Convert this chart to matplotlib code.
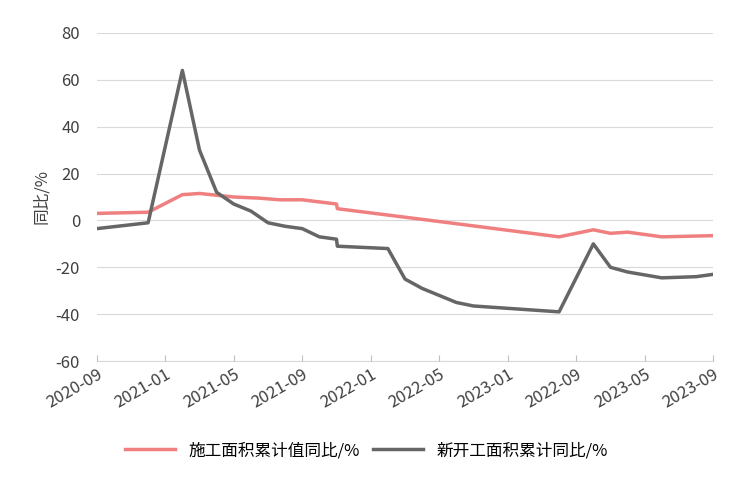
import matplotlib
matplotlib.use("Agg")
import matplotlib.pyplot as plt
from matplotlib import font_manager as fm

names = {f.name for f in fm.fontManager.ttflist}
cjk = [n for n in ['Noto Sans CJK SC','Noto Sans CJK JP','Noto Sans CJK TC','Noto Sans CJK KR'] if n in names]
plt.rcParams['font.family'] = 'sans-serif'
plt.rcParams['font.sans-serif'] = cjk + ['DejaVu Sans']
plt.rcParams['axes.unicode_minus'] = False

tick_labels = ["2020-09","2021-01","2021-05","2021-09","2022-01","2022-05","2023-01","2022-09","2023-05","2023-09"]
gray_x = [0,3,5,6,7,8,9,10,11,12,13,14,14.05,17,18,19,20,21,22,23,27,29,30,31,33,35,36]
gray_y = [-3.5,-1,64,30,12,7,4,-1,-2.5,-3.5,-7,-8,-11,-12,-25,-29,-32,-35,-36.5,-37,-39,-10,-20,-22,-24.5,-24,-23]
red_x = [0,3,5,6,8,9.5,10.7,12,14,14.05,19.5,27,29,30,31,33,36]
red_y = [3,3.5,11,11.5,10,9.5,8.8,8.8,7,5,0,-7,-4,-5.5,-5,-7,-6.5]

fig = plt.figure(figsize=(7.33,4.84), dpi=100)
ax = fig.add_axes([0.132,0.254,0.841,0.678])
ax.plot(red_x, red_y, color='#f08080', lw=2.5, label='施工面积累计值同比/%')
ax.plot(gray_x, gray_y, color='#666666', lw=2.5, label='新开工面积累计同比/%')
ax.set_ylim(-60,80)
ax.set_xlim(0,36)
ax.set_yticks(range(-60,81,20))
ax.set_xticks(range(0,37,4))
ax.set_xticklabels(tick_labels, rotation=30, ha='right', rotation_mode='anchor')
ax.grid(axis='y', color='#d9d9d9', lw=0.8)
ax.axhline(-60, color='#d9d9d9', lw=0.8, clip_on=False, zorder=0)
ax.set_axisbelow(True)
for s in ax.spines.values():
    s.set_visible(False)
ax.tick_params(axis='y', length=0, labelsize=12, colors='#404040', pad=12)
ax.tick_params(axis='x', length=4, direction='in', color='#bfbfbf', labelsize=12, colors='#404040')
ax.set_ylabel('同比/%', fontsize=12, color='#404040')
fig.legend(loc='lower center', bbox_to_anchor=(0.5,0.02), ncol=2, frameon=False, fontsize=12, handlelength=3, columnspacing=0.8)
fig.savefig('out.png')
